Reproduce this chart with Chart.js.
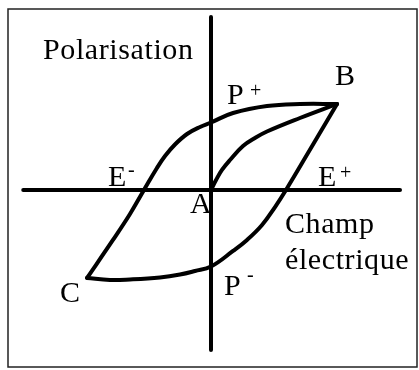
<!DOCTYPE html>
<html lang="fr">
<head>
<meta charset="utf-8">
<title>Cycle d'hystérésis</title>
<script src="https://cdn.jsdelivr.net/npm/chart.js@4/dist/chart.umd.min.js"></script>
<style>
  html, body { margin: 0; padding: 0; background: #fff; }
  #wrap { position: relative; width: 419px; height: 370px; }
</style>
</head>
<body>
<div id="wrap"><canvas id="chart"></canvas></div>
<script>
// Hysteresis loop (E = champ, P = polarisation, B = (10, 10))
const upperE = [-9.84, -7.78, -6.43, -5.32, -4.29, -3.65, -2.86, -1.90, -0.87, 0, 1.75, 4.44, 7.06, 10];
const upperP = [-10.23, -5.81, -2.79, 0, 2.56, 3.95, 5.29, 6.51, 7.33, 7.85, 8.95, 9.77, 10.0, 10];

const lowerE = [10, 7.98, 5.95, 5.08, 4.05, 2.86, 1.75, 0, -1.27, -2.46, -4.05, -6.43, -8.02, -9.84];
const lowerP = [10, 5.0, 0, -1.98, -4.07, -5.81, -7.09, -8.90, -9.42, -9.83, -10.17, -10.41, -10.47, -10.23];

const firstE = [0, 0.40, 0.87, 1.51, 2.54, 3.49, 4.44, 7.06, 10];
const firstP = [0, 1.16, 2.33, 3.49, 5.12, 6.05, 6.80, 8.37, 10];

const axisE = [-14.9, 15.0];
const axisP = [20.1, -18.6];

// text labels: [text, E, P, size]
const labels = [
  ['Polarisation', -13.33, 15.23, 30],
  ['B', 9.84, 12.21, 30],
  ['P', 1.27, 10.0, 30],
  ['+', 3.10, 10.81, 20],
  ['E', -8.17, 0.47, 30],
  ['-', -6.59, 1.63, 20],
  ['E', 8.49, 0.47, 30],
  ['+', 10.24, 1.28, 20],
  ['A', -1.67, -2.67, 30],
  ['Champ', 5.87, -5.0, 30],
  ['électrique', 5.87, -9.19, 30],
  ['P', 1.03, -12.21, 30],
  ['-', 2.86, -10.58, 20],
  ['C', -11.98, -13.02, 30],
];

const toPoints = (xs, ys) => xs.map((x, i) => ({ x, y: ys[i] }));

const curve = (data, tension) => ({
  data,
  showLine: true,
  borderColor: '#000',
  borderWidth: 4,
  pointRadius: 0,
  tension,
  borderCapStyle: 'round',
  borderJoinStyle: 'round',
  clip: false,
});

const decorations = {
  id: 'decorations',
  afterDatasetsDraw(chart) {
    const { ctx, scales: { x, y } } = chart;
    ctx.save();
    ctx.strokeStyle = '#222';
    ctx.lineWidth = 1.5;
    ctx.strokeRect(8, 9, 409, 358);

    ctx.fillStyle = '#000';
    ctx.textBaseline = 'alphabetic';
    ctx.textAlign = 'left';
    labels.forEach(([text, e, p, size]) => {
      ctx.font = `${size}px "Liberation Serif", "DejaVu Serif", serif`;
      ctx.letterSpacing = size > 20 ? '0.6px' : '0px';
      ctx.fillText(text, x.getPixelForValue(e), y.getPixelForValue(p));
    });
    ctx.restore();
  },
};

new Chart(document.getElementById('chart'), {
  type: 'scatter',
  data: {
    datasets: [
      curve(toPoints(axisE, [0, 0]), 0),
      curve(toPoints([0, 0], axisP), 0),
      curve(toPoints(upperE, upperP), 0.4),
      curve(toPoints(lowerE, lowerP), 0.4),
      curve(toPoints(firstE, firstP), 0.4),
    ],
  },
  options: {
    responsive: true,
    maintainAspectRatio: false,
    animation: false,
    layout: { padding: 0 },
    plugins: { legend: { display: false }, tooltip: { enabled: false } },
    scales: {
      x: { type: 'linear', display: false, min: -16.746, max: 16.508 },
      y: { type: 'linear', display: false, min: -20.93, max: 22.09 },
    },
  },
  plugins: [decorations],
});
</script>
</body>
</html>
